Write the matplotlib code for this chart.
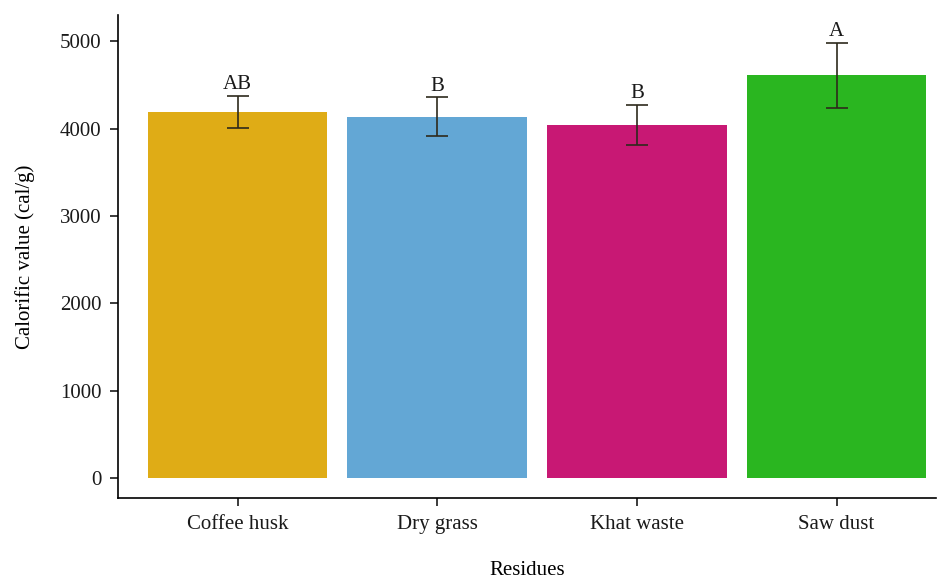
import matplotlib
matplotlib.use("Agg")
import matplotlib.pyplot as plt
import numpy as np

# calorific value of each residue, mean and error
residues = ["Coffee husk", "Dry grass", "Khat waste", "Saw dust"]
calorific = [4188, 4138, 4039, 4611]
errors = [183, 220, 230, 373]
letters = ["AB", "B", "B", "A"]
colors = ["#DFAC16", "#63A7D5", "#C81874", "#2AB620"]

plt.rcParams["font.family"] = ["Liberation Serif", "DejaVu Serif"]

fig = plt.figure(figsize=(9.43, 5.79), dpi=100)
ax = fig.add_axes([0.125, 0.14, 0.868, 0.834])

x = np.arange(len(residues))
ax.bar(x, calorific, width=0.9, color=colors)
ax.errorbar(x, calorific, yerr=errors, fmt="none", ecolor="#2e2a1c",
            elinewidth=1.2, capsize=8, capthick=1.2)

# significance letters above the error bars
for xi, v, e, lab in zip(x, calorific, errors, letters):
    ax.text(xi, v + e + 20, lab, ha="center", va="bottom", fontsize=15, color="#1a1a1a")

ax.set_xlim(-0.6, 3.5)
ax.set_ylim(-230, 5300)
ax.set_yticks([0, 1000, 2000, 3000, 4000, 5000])
ax.set_xticks(x)
ax.set_xticklabels(residues)
ax.tick_params(labelsize=15, colors="#1a1a1a", length=6, width=1.2, pad=6)
ax.spines["top"].set_visible(False)
ax.spines["right"].set_visible(False)
ax.spines["left"].set_linewidth(1.2)
ax.spines["bottom"].set_linewidth(1.2)
ax.set_xlabel("Residues", fontsize=15, labelpad=20)
ax.set_ylabel("Calorific value (cal/g)", fontsize=15, labelpad=18)

fig.savefig("out.png", dpi=100)
